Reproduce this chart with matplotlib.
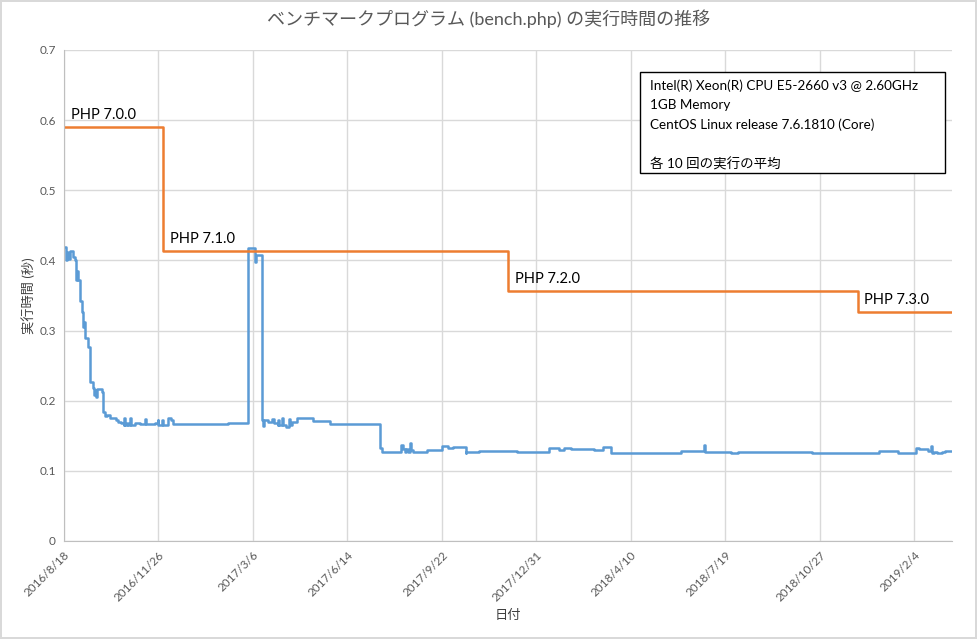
import pandas as pd
import matplotlib
matplotlib.use('Agg')
import matplotlib.pyplot as plt
from matplotlib.patches import Rectangle

plt.rcParams['font.family'] = ['Lato', 'Noto Sans CJK JP', 'DejaVu Sans']

start = pd.Timestamp('2016-08-18')

# bench.php timings: (days since 2016/8/18, seconds), step changes
blue_steps = [
    (0, 0.419), (2, 0.400), (3, 0.412), (4, 0.402), (6, 0.414), (10, 0.405), (12, 0.400),
    (13, 0.372), (14, 0.385), (15, 0.372), (17, 0.342), (19, 0.326), (20, 0.305), (21, 0.312),
    (22, 0.290), (25, 0.276), (28, 0.226), (31, 0.218), (32, 0.208), (33, 0.215), (34, 0.205),
    (35, 0.216), (40, 0.212), (41, 0.184), (43, 0.178), (46, 0.180), (49, 0.176), (52, 0.175),
    (55, 0.172), (57, 0.170), (60, 0.168), (63, 0.165), (64, 0.176), (65, 0.165), (67, 0.168),
    (68, 0.165), (70, 0.176), (71, 0.166), (75, 0.168), (80, 0.167), (86, 0.174), (87, 0.167),
    (96, 0.168), (99, 0.173), (100, 0.166), (104, 0.172), (105, 0.166), (110, 0.175),
    (113, 0.172), (115, 0.167), (174, 0.168), (195, 0.417), (202, 0.398), (203, 0.407),
    (210, 0.172), (211, 0.164), (212, 0.173), (216, 0.170), (220, 0.174), (222, 0.168),
    (226, 0.166), (227, 0.172), (228, 0.165), (231, 0.175), (232, 0.165), (235, 0.163),
    (238, 0.174), (239, 0.165), (241, 0.170), (247, 0.175), (264, 0.171), (282, 0.167),
    (335, 0.133), (337, 0.127), (357, 0.137), (359, 0.131), (361, 0.127), (362, 0.131),
    (364, 0.127), (366, 0.139), (367, 0.130), (369, 0.127), (384, 0.129), (400, 0.135),
    (406, 0.132), (412, 0.134), (425, 0.126), (426, 0.127), (439, 0.128), (480, 0.127),
    (513, 0.132), (524, 0.129), (529, 0.132), (537, 0.131), (561, 0.129), (571, 0.134),
    (579, 0.125), (653, 0.128), (677, 0.137), (679, 0.127), (706, 0.125), (713, 0.127),
    (792, 0.125), (863, 0.128), (883, 0.125), (902, 0.132), (905, 0.131), (915, 0.128),
    (918, 0.135), (919, 0.125), (921, 0.127), (924, 0.125), (929, 0.127), (933, 0.128),
    (940, 0.128),
]

# PHP release steps
php_days = [0, 105, 470, 840, 940]
php_vals = [0.590, 0.413, 0.357, 0.327, 0.327]
php_labels = ['PHP 7.0.0', 'PHP 7.1.0', 'PHP 7.2.0', 'PHP 7.3.0']

info_text = ('Intel(R) Xeon(R) CPU E5-2660 v3 @ 2.60GHz\n1GB Memory\n'
             'CentOS Linux release 7.6.1810 (Core)\n\n各 10 回の実行の平均')

blue_days = [d for d, v in blue_steps]
blue_vals = [v for d, v in blue_steps]
blue_dates = start + pd.to_timedelta(blue_days, unit='D')
php_dates = start + pd.to_timedelta(php_days, unit='D')

fig = plt.figure(figsize=(9.77, 6.39), dpi=100)
fig.patch.set_edgecolor('#d9d9d9')
fig.patch.set_linewidth(1.5)
ax = fig.add_axes([0.0655, 0.1534, 0.909, 0.7684])

ax.plot(blue_dates, blue_vals, drawstyle='steps-post', color='#5B9BD5', lw=1.8)
ax.plot(php_dates, php_vals, drawstyle='steps-post', color='#ED7D31', lw=1.8)

for d, v, lab in zip(php_dates[:-1], php_vals[:-1], php_labels):
    ax.text(d + pd.Timedelta(days=7), v + 0.007, lab, fontsize=10.5, color='black', va='bottom')

ax.set_xlim(start, start + pd.Timedelta(days=940))
ax.set_ylim(0, 0.7)
ax.set_yticks([i / 10 for i in range(8)])
ax.set_yticklabels(['0'] + [f'{i / 10:.1f}' for i in range(1, 8)])

ticks = [start + pd.Timedelta(days=100 * i) for i in range(10)]
ax.set_xticks(ticks)
ax.set_xticklabels([f'{t.year}/{t.month}/{t.day}' for t in ticks], rotation=45,
                   ha='right', rotation_mode='anchor')

ax.grid(True, color='#d9d9d9', lw=1)
ax.set_axisbelow(True)
for s in ['top', 'right']:
    ax.spines[s].set_visible(False)
for s in ['left', 'bottom']:
    ax.spines[s].set_color('#bfbfbf')
ax.tick_params(length=0, colors='#595959', labelsize=8.5, pad=6)

ax.set_ylabel('実行時間 (秒)', fontsize=9.5, color='#404040', labelpad=3)
ax.set_xlabel('日付', fontsize=9.5, color='#404040', labelpad=4)
fig.suptitle('ベンチマークプログラム (bench.php) の実行時間の推移', fontsize=13,
             color='#595959', y=0.985)

# info box
ax.add_patch(Rectangle((0.6486, 0.7495), 0.3435, 0.2055, transform=ax.transAxes,
                       fc='white', ec='black', lw=1, zorder=5))
ax.text(0.66, 0.939, info_text, transform=ax.transAxes, fontsize=9.7, va='top', ha='left',
        linespacing=1.68, zorder=6)

fig.savefig('out.png', dpi=100)
